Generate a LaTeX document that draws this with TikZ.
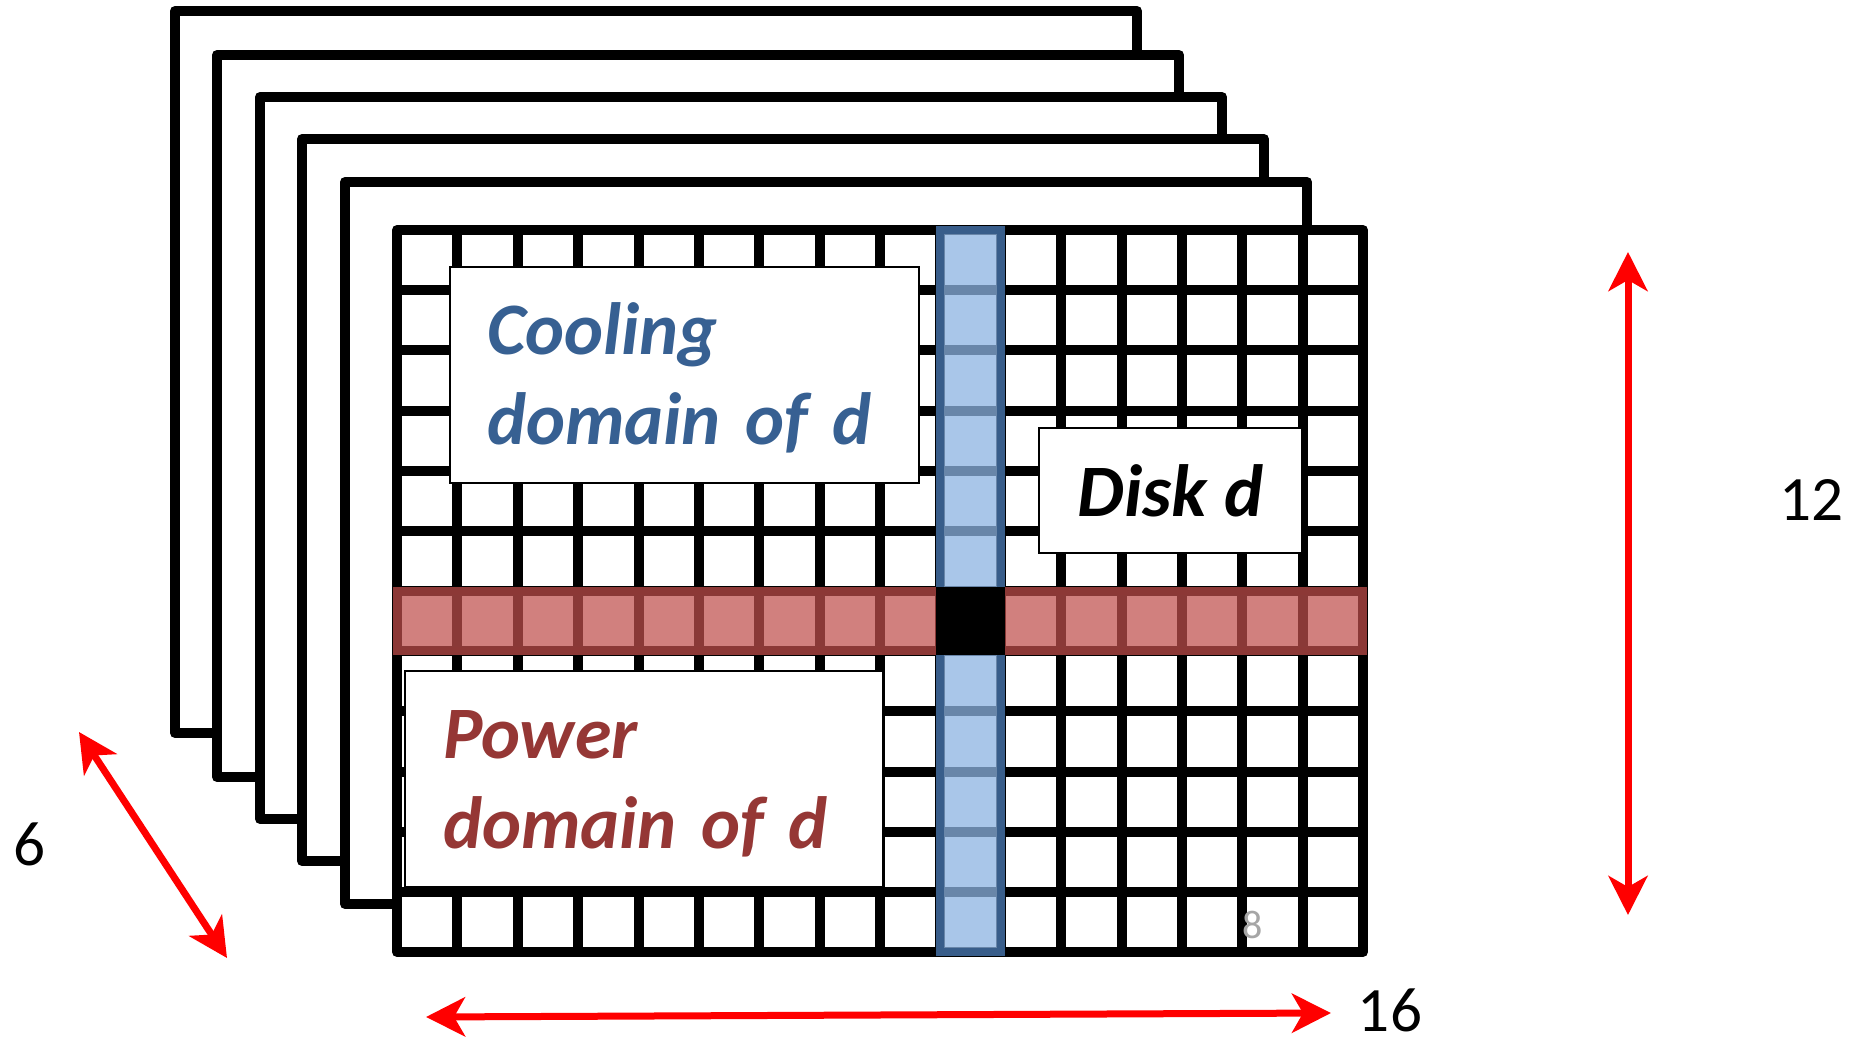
\documentclass[tikz,border=0pt]{standalone}
\usepackage{fontspec}
\setmainfont{Carlito}
\usepackage{tikz}
\usetikzlibrary{arrows.meta}
\definecolor{dimRed}{HTML}{FF0000}
\definecolor{coolText}{HTML}{376092}
\definecolor{coolFill}{HTML}{8DB3E2}
\definecolor{coolLine}{HTML}{385D8A}
\definecolor{powerText}{HTML}{953735}
\definecolor{powerFill}{HTML}{C0504D}
\definecolor{powerLine}{HTML}{8C3836}

\begin{document}
\begin{tikzpicture}[
  x=0.5pt,
  y=-0.5pt,
  platebox/.style={draw=black, fill=white, line width=5pt, line join=round},
  gridline/.style={draw=black, line width=5pt},
  coolband/.style={draw=coolLine, fill=coolFill, fill opacity=0.75, line width=4pt},
  powerband/.style={draw=powerLine, fill=powerFill, fill opacity=0.72, line width=4pt},
  namebox/.style={draw=black, fill=white, line width=1.2pt, inner ysep=0pt,
    font=\fontsize{37}{45}\selectfont\bfseries\itshape},
  domainbox/.style={namebox, align=left, minimum height=108pt, text height=34.5pt, text depth=55pt},
  dimtext/.style={font=\fontsize{31.6}{38}\selectfont, anchor=base, inner sep=0pt},
  dimarrow/.style={{Stealth[length=19.5pt,width=19.5pt,inset=5.5pt]}-{Stealth[length=19.5pt,width=19.5pt,inset=5.5pt]},
    draw=dimRed, line width=3.5pt}
]
\useasboundingbox (0,0) rectangle (1864,1038);

\foreach \px/\py in {175/11,217/55,260/97,302/139,345/182}
  \draw[platebox] (\px,\py) rectangle ++(962,722);
\draw[platebox] (397,230) rectangle (1363,952);
\foreach \i in {1,...,15}
  \draw[gridline] ({397+\i*60.375},230) -- ++(0,722);
\foreach \j in {1,...,11}
  \draw[gridline] (397,{230+\j*60.167}) -- ++(966,0);

\draw[powerband] (397,591) rectangle (1363,651.2);
\draw[coolband] (940.4,230) rectangle (1000.75,952);
\draw[line width=4pt, fill=black] (940.4,591) rectangle (1000.75,651.2);

\node[domainbox, text=coolText, text width=197.5pt, inner xsep=18.5pt] (cooling) at (684.5,375) {Cooling\\domain of d};
\node[namebox, minimum width=131.5pt, minimum height=62.5pt] (disk) at (1170.5,490.5) {Disk d};
\node[domainbox, text=powerText, text width=201pt, inner xsep=19pt] (power) at (644,779) {Power\\domain of d};
\node[font=\fontsize{20}{24}\selectfont, text=black!35, anchor=base] (slide) at (1252.5,938) {8};

\coordinate (rowTop) at (1628,252);
\coordinate (rowBottom) at (1628,915);
\coordinate (colLeft) at (426,1017);
\coordinate (colRight) at (1331,1013);
\coordinate (depthBack) at (79,732);
\coordinate (depthFront) at (227,958);

\draw[dimarrow] (rowTop) -- (rowBottom);
\draw[dimarrow] (colLeft) -- (colRight);
\draw[dimarrow] (depthBack) -- (depthFront);

\node[dimtext] (rows) at (1811.5,520) {12};
\node[dimtext] (cols) at (1390,1031) {16};
\node[dimtext] (depth) at (29.5,865) {6};
\end{tikzpicture}
\end{document}
